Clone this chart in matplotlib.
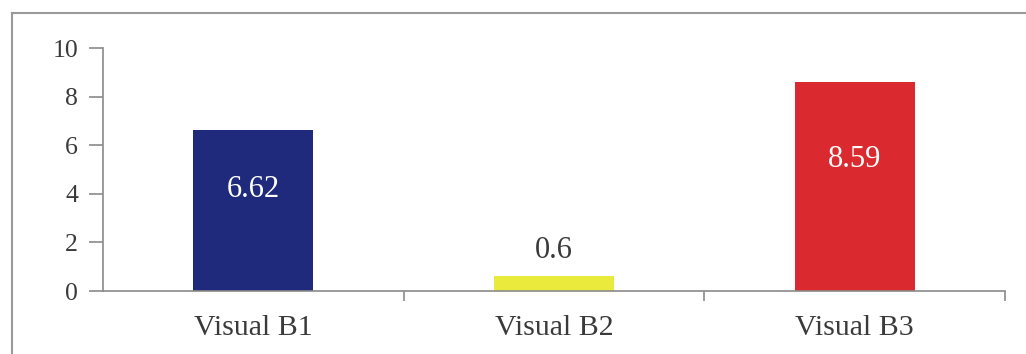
import matplotlib
matplotlib.use("Agg")
import matplotlib.pyplot as plt
from matplotlib.lines import Line2D

categories = ["Visual B1", "Visual B2", "Visual B3"]
values = [6.62, 0.6, 8.59]
bar_colors = ["#1f2a7c", "#eaea3c", "#da2a2f"]
yticks = [0, 2, 4, 6, 8, 10]

plt.rcParams["font.family"] = ["Liberation Serif", "DejaVu Serif"]

fig = plt.figure(figsize=(10.26, 3.54), dpi=100)
ax = fig.add_axes([103 / 1026, 1 - 291 / 354, (1005 - 103) / 1026, (291 - 48) / 354])

x = list(range(len(categories)))
ax.bar(x, values, width=0.40, color=bar_colors, zorder=2)

ax.set_xlim(-0.5, len(categories) - 0.5)
ax.set_ylim(0, 10)

axis_color = "#8a8a8a"
text_color = "#3a3a3a"

for side in ("top", "right"):
    ax.spines[side].set_visible(False)
for side in ("left", "bottom"):
    ax.spines[side].set_color(axis_color)
    ax.spines[side].set_linewidth(1.2)

ax.set_yticks(yticks)
ax.set_yticklabels([str(t) for t in yticks], fontsize=18.5, color=text_color)
ax.tick_params(axis="y", direction="out", length=10, width=1.2, color=axis_color, pad=8)

# category labels centred under bars, tick marks at category boundaries
ax.set_xticks(x)
ax.set_xticklabels(categories, fontsize=21.5, color=text_color)
ax.tick_params(axis="x", which="major", length=0, pad=17)
ax.set_xticks([i + 0.5 for i in x], minor=True)
ax.tick_params(axis="x", which="minor", direction="out", length=7, width=1.2, color=axis_color)

for xi, v in zip(x, values):
    if v > 3:
        ax.text(xi, v * 0.63, f"{v:g}", ha="center", va="center",
                fontsize=22, color="white", zorder=3)
    else:
        ax.annotate(f"{v:g}", (xi, v), xytext=(0, 8), textcoords="offset points",
                    ha="center", va="bottom", fontsize=22, color=text_color)

# outer frame edges
fig.add_artist(Line2D([12 / 1026, 12 / 1026], [0, 1 - 13 / 354],
                      transform=fig.transFigure, color="#9a9a9a", lw=1.5))
fig.add_artist(Line2D([12 / 1026, 1], [1 - 13 / 354, 1 - 13 / 354],
                      transform=fig.transFigure, color="#9a9a9a", lw=1.5))

fig.savefig("out.png", dpi=100)
